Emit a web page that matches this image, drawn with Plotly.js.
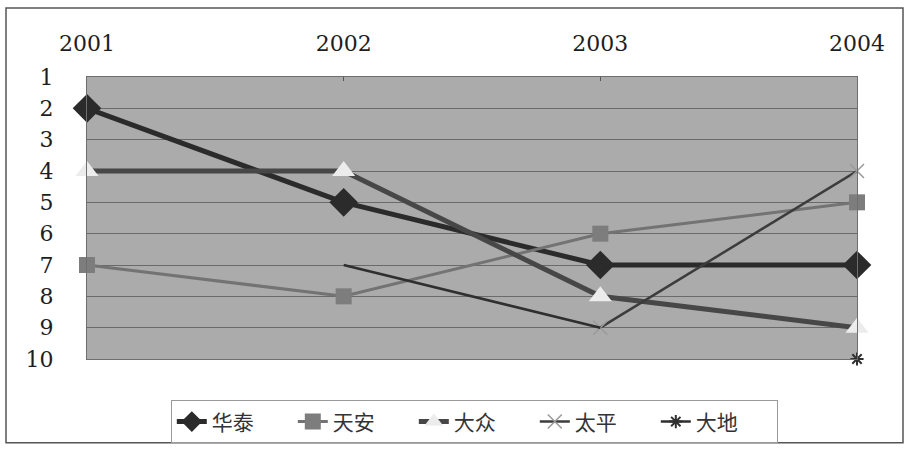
<!DOCTYPE html>
<html>
<head>
<meta charset="utf-8">
<script src="https://cdn.plot.ly/plotly-3.0.1.min.js"></script>
<style>html,body{margin:0;padding:0;background:#fff;}#chart{width:907px;height:455px;}</style>
</head>
<body>
<div id="chart"></div>
<script>
// Data
const years = ['2001', '2002', '2003', '2004'];
const huaTai = [2, 5, 7, 7];
const tianAn = [7, 8, 6, 5];
const daZhong = [4, 4, 8, 9];
const taiPing = [null, null, 9, 4];
const daDi = [null, 7, 9, 10];
const yTicks = [1, 2, 3, 4, 5, 6, 7, 8, 9, 10];

const daDiLine = daDi.map((v, i) => (i < 3 ? v : null));
const daDiMark = daDi.map((v, i) => (i === 3 ? v : null));

const traces = [
  {name: '华泰', x: years, y: huaTai, mode: 'lines+markers',
   line: {color: '#2b2b2b', width: 5},
   marker: {symbol: 'diamond', size: 22, color: '#2b2b2b'}, cliponaxis: false},
  {name: '天安', x: years, y: tianAn, mode: 'lines+markers',
   line: {color: '#737373', width: 3},
   marker: {symbol: 'square', size: 16, color: '#7d7d7d'}, cliponaxis: false},
  {name: '大众', x: years, y: daZhong, mode: 'lines+markers',
   line: {color: '#474747', width: 5},
   marker: {symbol: 'triangle-up', size: 20, color: '#ececec'}, cliponaxis: false},
  {name: '太平', x: years, y: taiPing, mode: 'lines+markers',
   line: {color: '#3c3c3c', width: 2.5},
   marker: {symbol: 'x-thin-open', size: 14, color: '#9a9a9a', line: {color: '#9a9a9a', width: 1.5}}, cliponaxis: false},
  {name: '大地', x: years, y: daDiLine, mode: 'lines', showlegend: false,
   line: {color: '#2f2f2f', width: 2.5}, cliponaxis: false},
  {name: '大地', x: years, y: daDiMark, mode: 'lines+markers',
   line: {color: '#2f2f2f', width: 2.5},
   marker: {symbol: 'asterisk-open', size: 11, color: '#2f2f2f', line: {color: '#2f2f2f', width: 2}}, cliponaxis: false}
];

const layout = {
  width: 907, height: 455,
  margin: {l: 87, r: 50, t: 77, b: 92},
  paper_bgcolor: '#ffffff',
  plot_bgcolor: '#ababab',
  font: {family: 'DejaVu Serif, Liberation Serif, serif', size: 22, color: '#1e1e1e'},
  showlegend: true,
  legend: {
    orientation: 'h', x: 0.503, xanchor: 'center', y: -0.223, yanchor: 'middle',
    font: {family: 'Noto Sans CJK SC, sans-serif', size: 21, color: '#333'},
    bordercolor: '#9a9a9a', borderwidth: 1, bgcolor: '#ffffff',
    itemwidth: 30, tracegroupgap: 0, entrywidth: 76, entrywidthmode: 'pixels'
  },
  xaxis: {
    type: 'category', side: 'top', range: [0, 3], fixedrange: true,
    showgrid: false, zeroline: false,
    showline: true, mirror: true, linecolor: '#6e6e6e', linewidth: 1,
    ticks: 'inside', ticklen: 4, tickcolor: '#555',
    ticklabelstandoff: 16
  },
  yaxis: {
    range: [10, 1], tickvals: yTicks, ticktext: yTicks.map(String),
    showgrid: true, gridcolor: '#6a6a6a', gridwidth: 1, zeroline: false,
    showline: true, mirror: true, linecolor: '#6e6e6e', linewidth: 1,
    ticks: '', ticklabelstandoff: 28
  },
  shapes: [
    {type: 'rect', xref: 'paper', yref: 'paper', layer: 'below',
     x0: (6 - 87) / 770, x1: (903 - 87) / 770, y0: (363 - 448) / 286, y1: (363 - 7) / 286,
     line: {color: '#555', width: 1.5}, fillcolor: 'rgba(0,0,0,0)'}
  ]
};

Plotly.newPlot('chart', traces, layout, {displayModeBar: false, staticPlot: true});
</script>
</body>
</html>
